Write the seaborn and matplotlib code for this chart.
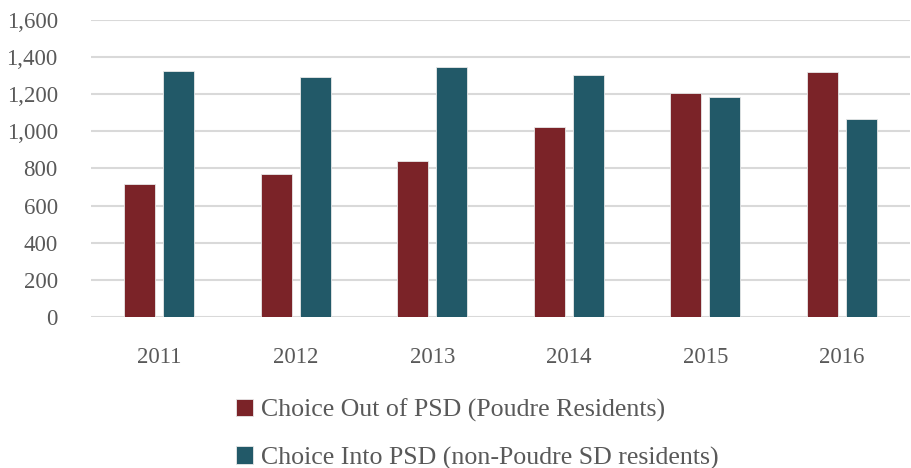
import pandas as pd
import numpy as np
from matplotlib import pyplot as plt
import seaborn as sns

# values
years = ['2011', '2012', '2013', '2014', '2015', '2016']
choice_out = [715, 769, 842, 1024, 1208, 1318]
choice_in = [1325, 1295, 1349, 1305, 1187, 1068]
series = ['Choice Out of PSD (Poudre Residents)', 'Choice Into PSD (non-Poudre SD residents)']
colors = ['#7B2328', '#225968']

df = pd.DataFrame({
    'year': years * 2,
    'count': choice_out + choice_in,
    'series': [series[0]] * len(years) + [series[1]] * len(years),
})

sns.set_style('white')
plt.rcParams['font.family'] = ['Liberation Serif', 'DejaVu Serif']
text_col = '#595959'

fig = plt.figure(figsize=(9.12, 4.68), dpi=100)
ax = fig.add_axes([0.0998, 0.323, 0.898, 0.634])

sns.barplot(data=df, x='year', y='count', hue='series', palette=colors,
            saturation=1, width=0.57, gap=0.2, edgecolor='#e8e8e8', linewidth=0.6,
            ax=ax, legend=True)

ax.set_ylim(0, 1600)
ax.set_yticks(np.arange(0, 1601, 200))
ax.set_yticklabels([f'{v:,}' for v in range(0, 1601, 200)])
ax.yaxis.grid(True, color='#D9D9D9', linewidth=1.5)
ax.set_axisbelow(True)
for s in ax.spines.values():
    s.set_visible(False)
ax.set_xlabel('')
ax.set_ylabel('')
ax.tick_params(axis='both', length=0, labelsize=16.5, colors=text_col)
ax.tick_params(axis='y', pad=24)
ax.tick_params(axis='x', pad=22)

handles, labels = ax.get_legend_handles_labels()
ax.get_legend().remove()
leg = fig.legend(handles, labels, loc='upper left', bbox_to_anchor=(0.245, 0.176),
                 frameon=False, fontsize=18.6, handlelength=0.65, handleheight=0.65,
                 handletextpad=0.3, labelspacing=0.95, borderpad=0)
for t in leg.get_texts():
    t.set_color(text_col)

fig.savefig('out.png', dpi=100)
